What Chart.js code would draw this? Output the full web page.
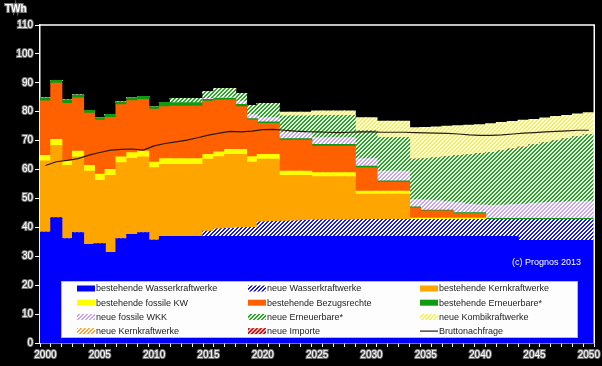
<!DOCTYPE html>
<html>
<head>
<meta charset="utf-8">
<script src="https://cdn.jsdelivr.net/npm/chart.js@4.4.0/dist/chart.umd.min.js"></script>
<style>
  html, body { margin: 0; padding: 0; background: #000; }
  canvas { display: block; }
</style>
</head>
<body>
<canvas id="chart" width="602" height="366"></canvas>
<script>
// Jahre 2000..2050
const years = [];
for (let y = 2000; y <= 2050; y++) years.push(String(y));

const yTicks = [0, 10, 20, 30, 40, 50, 60, 70, 80, 90, 100, 110];

// TWh, von unten nach oben gestapelt
const bestWasser = [38.3,43.3,36.0,38.1,34.0,34.3,31.3,36.0,37.5,38.1, 35.5,36.8,36.8,36.8,36.8,36.8,36.8,36.8,36.8,36.8,
  36.8,36.8,36.8,36.8,36.8,36.8,36.8,36.8,36.8,36.8, 36.8,36.8,36.8,36.8,36.8,36.8,36.8,36.8,36.8,36.8,
  36.8,36.8,36.8,36.8,35.4,35.4,35.4,35.4,35.4,35.4, 35.4];
const neuWasser = [0,0,0,0,0,0,0,0,0,0, 0,0,0,0,0,1.8,2.6,2.8,3.0,3.1,
  5.0,5.2,5.3,5.4,5.5,5.7,5.7,5.7,5.7,5.9, 5.9,5.9,5.9,5.9,5.9,5.9,5.9,5.9,5.9,5.9,
  5.9,5.9,5.9,5.9,7.3,7.3,7.3,7.3,7.3,7.3, 7.3];
const bestKern = [24.6,25.0,25.4,26.2,25.4,21.9,26.6,26.3,26.3,26.2, 25.1,24.9,24.9,24.9,24.9,24.9,25.0,25.6,25.4,22.6,
  21.7,21.5,15.8,15.7,15.6,15.0,15.0,15.0,15.0,8.7, 8.7,8.7,8.7,8.7,0,0,0,0,0,0,
  0,0,0,0,0,0,0,0,0,0, 0];
const bestFossil = [1.9,2.1,1.5,2.0,2.0,2.1,2.1,2.0,2.0,2.0, 1.9,2.0,2.0,2.0,2.0,1.7,1.6,1.7,1.7,1.9,
  1.7,1.7,1.5,1.5,1.5,1.4,1.4,1.4,1.4,1.1, 1.1,1.1,1.1,1.1,0.4,0.4,0.4,0.4,0.4,0.4,
  0.4,0,0,0,0,0,0,0,0,0, 0];
const bezugsrechte = [18.9,19.4,19.9,18.4,18.0,18.7,18.0,18.1,18.0,17.9, 18.3,18.0,18.2,18.2,18.2,18.4,18.0,17.1,14.8,12.7,
  10.7,10.7,10.7,10.7,10.7,9.1,9.1,9.1,9.1,8.1, 8.1,3.1,3.1,3.1,3.6,2.5,2.5,2.5,1.6,1.6,
  1.6,0,0,0,0,0,0,0,0,0, 0];
const bestErneuerbar = [1.0,1.0,1.1,1.0,1.0,0.9,1.0,0.9,1.0,1.0, 0.9,1.5,1.2,1.2,1.2,0.6,0.6,0.6,0.8,0.4,
  0.5,0.5,0.5,0.5,0.5,0.6,0.6,0.6,0.6,0.5, 0.5,0.4,0.4,0.4,0.3,0.3,0.3,0.3,0.3,0.3,
  0.3,0.3,0.3,0.3,0.3,0.3,0.3,0.3,0.3,0.3, 0.3];
const neuWkk = [0,0,0,0,0,0,0,0,0,0, 0,0,0,0,0,0.3,0.4,0.4,1.1,1.4,
  1.5,1.5,2.1,2.1,2.1,2.4,2.4,2.4,2.4,2.6, 2.6,3.4,3.4,3.4,2.6,3.5,3.3,2.9,3.5,3.0,
  2.7,4.5,4.6,4.8,5.0,5.3,5.5,5.6,5.8,5.9, 6.0];
const neuErneuerbar = [0,0,0,0,0,0,0,0,0,0, 0,0,1.4,1.4,1.4,2.3,2.9,2.9,2.7,3.2,
  4.9,4.9,5.7,5.7,5.7,7.7,7.7,7.7,7.7,9.6, 9.6,11.6,11.6,11.6,13.9,14.3,14.8,15.6,16.3,17.1,
  17.8,18.4,18.9,19.3,19.7,20.2,20.7,21.3,21.8,22.4, 23.0];
const neuKern = years.map(() => 0);
const neuImporte = years.map(() => 0);
const neuKombi = [0,0,0,0,0,0,0,0,0,0, 0,0,0,0,0,0,0,0,0,0,
  0,0,1.4,1.4,1.4,1.5,1.5,1.5,1.5,4.6, 4.6,5.7,5.7,5.7,10.9,10.8,10.7,10.5,10.3,10.2,
  10.0,9.9,9.7,9.5,9.3,8.8,8.6,8.4,8.1,7.9, 7.6];
const bruttonachfrage = [61.4,62.7,63.2,63.8,65.0,65.9,66.7,67.0,67.1,66.7, 68.2,69.0,69.6,70.2,71.0,71.9,72.6,73.2,73.0,73.3,
  73.8,73.9,73.6,73.3,73.1,73.0,72.9,72.8,72.9,73.0, 73.0,72.9,72.9,72.9,72.8,72.7,72.6,72.5,72.3,72.0,
  71.8,71.8,72.0,72.3,72.6,72.8,73.0,73.2,73.4,73.6, 73.6];

const FONT = "'Liberation Sans', Arial, sans-serif";

// schraffierte Füllung "////"
function hatch(fg, bg) {
  const t = document.createElement("canvas");
  t.width = 4; t.height = 4;
  const g = t.getContext("2d");
  g.fillStyle = bg; g.fillRect(0, 0, 4, 4);
  g.fillStyle = fg;
  for (let y = 0; y < 4; y++)
    for (let x = 0; x < 4; x++)
      if ((x + y) % 4 < 2) g.fillRect(x, y, 1, 1);
  return g.createPattern(t, "repeat");
}

const bar = (label, data, color) => ({
  type: "bar", label, data, backgroundColor: color, borderWidth: 0,
  stack: "s", order: 1, categoryPercentage: 1, barPercentage: 1, inflateAmount: 0.6
});

const ds = [
  bar("bestehende Wasserkraftwerke", bestWasser, "#0000ff"),
  bar("neue Wasserkraftwerke", neuWasser, hatch("#1a1ae6", "#ffffff")),
  bar("bestehende Kernkraftwerke", bestKern, "#ffa500"),
  bar("bestehende fossile KW", bestFossil, "#ffff00"),
  bar("bestehende Bezugsrechte", bezugsrechte, "#ff6000"),
  bar("bestehende Erneuerbare*", bestErneuerbar, "#109a10"),
  bar("neue fossile WKK", neuWkk, hatch("#c9a4f2", "#ffffff")),
  bar("neue Erneuerbare*", neuErneuerbar, hatch("#2f9f2f", "#e6f6e0")),
  bar("neue Kernkraftwerke", neuKern, hatch("#ffa030", "#ffffff")),
  bar("neue Importe", neuImporte, hatch("#b02020", "#f0a8a8")),
  bar("neue Kombikraftwerke", neuKombi, hatch("#f4ef5c", "#fffff0")),
  {
    type: "line", label: "Bruttonachfrage", data: bruttonachfrage,
    borderColor: "#2a1c0c", borderWidth: 1.2, pointRadius: 0, tension: 0,
    fill: false, stack: "line", order: 0
  }
];

// Reihenfolge der Legende (3 Spalten)
const legendOrder = [
  "bestehende Wasserkraftwerke", "neue Wasserkraftwerke", "bestehende Kernkraftwerke",
  "bestehende fossile KW", "bestehende Bezugsrechte", "bestehende Erneuerbare*",
  "neue fossile WKK", "neue Erneuerbare*", "neue Kombikraftwerke",
  "neue Kernkraftwerke", "neue Importe", "Bruttonachfrage"
];

const overlay = {
  id: "overlay",
  beforeDraw(chart) {
    const ctx = chart.ctx;
    ctx.save();
    ctx.fillStyle = "#000";
    ctx.fillRect(0, 0, chart.width, chart.height);
    ctx.restore();
  },
  afterDraw(chart) {
    const { ctx, chartArea: a } = chart;
    ctx.save();
    // Rahmen oben und rechts
    ctx.strokeStyle = "#fff";
    ctx.lineWidth = 1.5;
    ctx.beginPath();
    ctx.moveTo(a.left, a.top);
    ctx.lineTo(a.right, a.top);
    ctx.lineTo(a.right, a.bottom);
    ctx.stroke();

    // Einheit
    ctx.font = "bold 10px " + FONT;
    ctx.textBaseline = "middle";
    ctx.lineWidth = 2;
    ctx.strokeStyle = "#777";
    ctx.strokeText("TWh", 5, 9);
    ctx.fillStyle = "#fff";
    ctx.fillText("TWh", 5, 9);

    // Quelle
    ctx.font = "9px " + FONT;
    ctx.fillStyle = "#fff";
    ctx.fillText("(c) Prognos 2013", 512, 263);

    // Legende
    const bx = 61, by = 281, bw = 517, bh = 57;
    ctx.fillStyle = "#fdfdfd";
    ctx.fillRect(bx, by, bw, bh);
    ctx.strokeStyle = "#bbb";
    ctx.lineWidth = 1;
    ctx.strokeRect(bx + 0.5, by + 0.5, bw - 1, bh - 1);

    const cols = [77, 248, 420];
    const rows = [288.5, 302.7, 316.9, 331.1];
    ctx.font = "9px " + FONT;
    ctx.textBaseline = "middle";
    legendOrder.forEach((name, i) => {
      const d = chart.data.datasets.find((x) => x.label === name);
      const x = cols[i % 3], y = rows[Math.floor(i / 3)];
      if (d.type === "line") {
        ctx.strokeStyle = d.borderColor;
        ctx.lineWidth = 1.2;
        ctx.beginPath();
        ctx.moveTo(x, y);
        ctx.lineTo(x + 18, y);
        ctx.stroke();
      } else {
        ctx.fillStyle = d.backgroundColor;
        ctx.fillRect(x, y - 3, 18, 6);
      }
      ctx.fillStyle = "#222";
      ctx.fillText(name, x + 19, y + 0.5);
    });
    ctx.restore();
  }
};

new Chart(document.getElementById("chart"), {
  data: { labels: years, datasets: ds },
  options: {
    responsive: false,
    animation: false,
    layout: { padding: { top: 25, right: 5, left: 0, bottom: 0 } },
    plugins: { legend: { display: false }, tooltip: { enabled: false } },
    scales: {
      x: {
        stacked: true,
        afterFit: (s) => { s.height = 23; },
        border: { color: "#fff", width: 1.5 },
        grid: { display: true, drawOnChartArea: false, color: "#fff", tickLength: 4, offset: true },
        ticks: {
          autoSkip: false, maxRotation: 0, padding: 2,
          color: "#fff", textStrokeColor: "#777", textStrokeWidth: 2,
          font: { family: FONT, size: 10 },
          callback: (v, i) => (i % 5 === 0 ? years[i] : "")
        }
      },
      y: {
        stacked: true,
        min: 0, max: 110,
        afterFit: (s) => { s.width = 40; },
        afterBuildTicks: (s) => { s.ticks = yTicks.map((v) => ({ value: v })); },
        border: { color: "#fff", width: 1.5 },
        grid: { display: true, drawOnChartArea: false, color: "#fff", tickLength: 5 },
        ticks: {
          padding: 2,
          color: "#fff", textStrokeColor: "#777", textStrokeWidth: 2,
          font: { family: FONT, size: 10 }
        }
      }
    }
  },
  plugins: [overlay]
});
</script>
</body>
</html>
